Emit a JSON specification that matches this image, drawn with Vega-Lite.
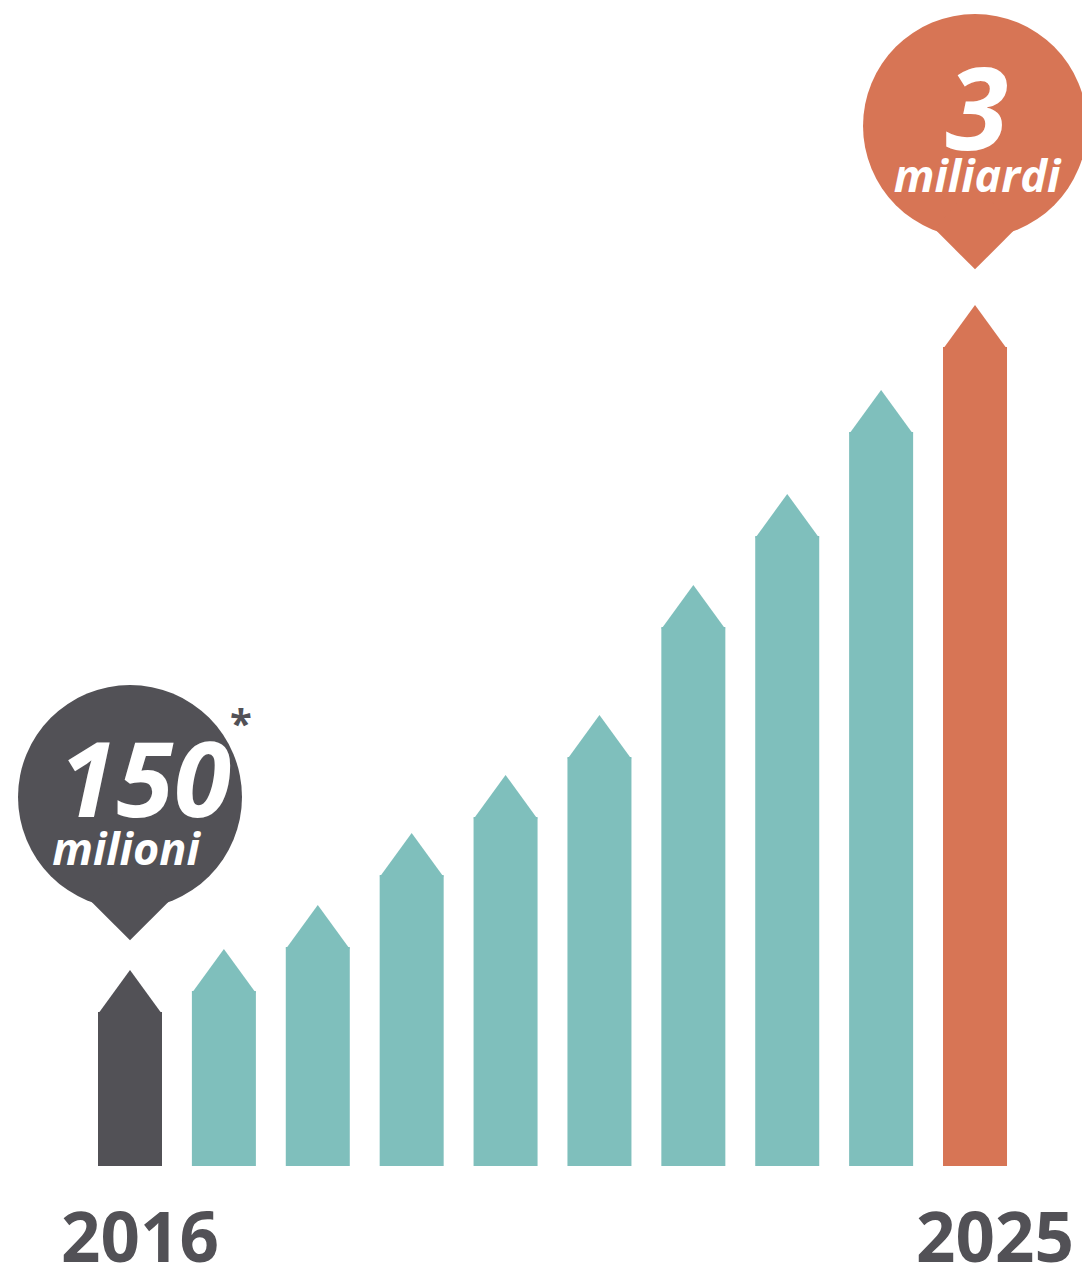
{
  "$schema": "https://vega.github.io/schema/vega-lite/v6.json",
  "width": 1082,
  "height": 1268,
  "padding": 0,
  "autosize": "none",
  "background": "#ffffff",
  "config": {"view": {"stroke": null}},
  "datasets": {
    "bars": [
      {"year": 2016, "value": 154, "group": "start"},
      {"year": 2017, "value": 175, "group": "mid"},
      {"year": 2018, "value": 219, "group": "mid"},
      {"year": 2019, "value": 291, "group": "mid"},
      {"year": 2020, "value": 349, "group": "mid"},
      {"year": 2021, "value": 409, "group": "mid"},
      {"year": 2022, "value": 539, "group": "mid"},
      {"year": 2023, "value": 630, "group": "mid"},
      {"year": 2024, "value": 734, "group": "mid"},
      {"year": 2025, "value": 819, "group": "end"}
    ],
    "bubbles": [
      {"year": 2016, "cy": 369, "group": "start", "big": "150", "unit": "milioni"},
      {"year": 2025, "cy": 1040, "group": "end", "big": "3", "unit": "miliardi"}
    ]
  },
  "encoding": {
    "x": {"field": "year", "type": "quantitative", "axis": null,
          "scale": {"domain": [2014.6154, 2026.1395], "nice": false, "zero": false, "padding": 0}}
  },
  "layer": [
    {
      "data": {"name": "bars"},
      "mark": {"type": "bar", "width": 64},
      "encoding": {
        "y": {"field": "value", "type": "quantitative", "axis": null,
              "scale": {"domain": [-102, 1166], "nice": false, "zero": false, "padding": 0}},
        "y2": {"datum": 0},
        "color": {"field": "group", "type": "nominal", "legend": null,
                  "scale": {"domain": ["start", "mid", "end"], "range": ["#525156", "#7fbfbc", "#d77555"]}}
      }
    },
    {
      "data": {"name": "bars"},
      "mark": {"type": "point", "filled": true, "opacity": 1, "strokeWidth": 0,
               "shape": "M-1,0.06 L0,-1.3125 L1,0.06 Z", "size": 4096},
      "encoding": {
        "y": {"field": "value", "type": "quantitative"},
        "color": {"field": "group", "type": "nominal", "legend": null}
      }
    },
    {
      "data": {"name": "bubbles"},
      "mark": {"type": "point", "filled": true, "opacity": 1, "strokeWidth": 0,
               "shape": "circle", "size": 50176},
      "encoding": {
        "y": {"field": "cy", "type": "quantitative"},
        "color": {"field": "group", "type": "nominal", "legend": null}
      }
    },
    {
      "data": {"name": "bubbles"},
      "mark": {"type": "point", "filled": true, "opacity": 1, "strokeWidth": 0,
               "shape": "M-0.36,0.92 L0,1.28 L0.36,0.92 L0,0.5 Z", "size": 50176},
      "encoding": {
        "y": {"field": "cy", "type": "quantitative"},
        "color": {"field": "group", "type": "nominal", "legend": null}
      }
    },
    {
      "data": {"name": "bubbles"},
      "transform": [{"filter": "datum.year == 2016"}],
      "mark": {"type": "text", "font": "Open Sans", "fontWeight": "bold", "fontStyle": "italic",
               "fontSize": 104, "color": "#ffffff", "align": "center", "baseline": "alphabetic",
               "dx": 15, "dy": 20, "letterSpacing": 5},
      "encoding": {
        "y": {"field": "cy", "type": "quantitative"},
        "text": {"field": "big"}
      }
    },
    {
      "data": {"name": "bubbles"},
      "transform": [{"filter": "datum.year == 2016"}],
      "mark": {"type": "text", "font": "Open Sans", "fontWeight": "bold", "fontStyle": "italic",
               "fontSize": 45, "color": "#ffffff", "align": "center", "baseline": "alphabetic",
               "dx": -4, "dy": 68},
      "encoding": {
        "y": {"field": "cy", "type": "quantitative"},
        "text": {"field": "unit"}
      }
    },
    {
      "data": {"name": "bubbles"},
      "transform": [{"filter": "datum.year == 2016"}],
      "mark": {"type": "text", "font": "Open Sans", "fontWeight": "bold",
               "fontSize": 40, "color": "#525156", "align": "center", "baseline": "alphabetic",
               "dx": 111, "dy": -59, "text": "*"},
      "encoding": {
        "y": {"field": "cy", "type": "quantitative"}
      }
    },
    {
      "data": {"name": "bubbles"},
      "transform": [{"filter": "datum.year == 2025"}],
      "mark": {"type": "text", "font": "Open Sans", "fontWeight": "bold", "fontStyle": "italic",
               "fontSize": 114, "color": "#ffffff", "align": "center", "baseline": "alphabetic",
               "dx": 2, "dy": 24},
      "encoding": {
        "y": {"field": "cy", "type": "quantitative"},
        "text": {"field": "big"}
      }
    },
    {
      "data": {"name": "bubbles"},
      "transform": [{"filter": "datum.year == 2025"}],
      "mark": {"type": "text", "font": "Open Sans", "fontWeight": "bold", "fontStyle": "italic",
               "fontSize": 45, "color": "#ffffff", "align": "center", "baseline": "alphabetic",
               "dx": 2, "dy": 66},
      "encoding": {
        "y": {"field": "cy", "type": "quantitative"},
        "text": {"field": "unit"}
      }
    },
    {
      "data": {"name": "bars"},
      "transform": [{"filter": "datum.year == 2016"}],
      "mark": {"type": "text", "font": "Open Sans", "fontWeight": "bold",
               "fontSize": 69, "color": "#525156", "align": "center", "baseline": "alphabetic",
               "dx": 10},
      "encoding": {
        "y": {"datum": -96},
        "text": {"field": "year", "type": "quantitative", "format": "d"}
      }
    },
    {
      "data": {"name": "bars"},
      "transform": [{"filter": "datum.year == 2025"}],
      "mark": {"type": "text", "font": "Open Sans", "fontWeight": "bold",
               "fontSize": 69, "color": "#525156", "align": "center", "baseline": "alphabetic",
               "dx": 20},
      "encoding": {
        "y": {"datum": -96},
        "text": {"field": "year", "type": "quantitative", "format": "d"}
      }
    }
  ]
}
